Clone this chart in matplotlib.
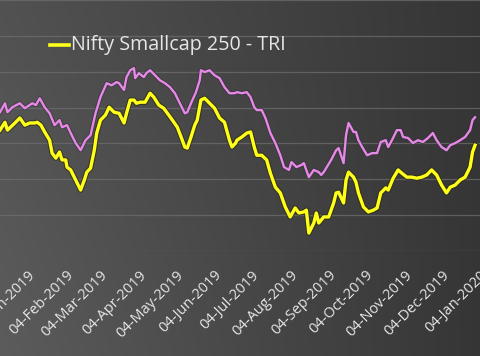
import numpy as np
import pandas as pd
import matplotlib
matplotlib.use("Agg")
import matplotlib.pyplot as plt
import matplotlib.patheffects as pe

# ---- data ----
yellow_dates = ["2018-12-13","2018-12-17","2018-12-19","2018-12-25","2018-12-29","2019-01-02","2019-01-06","2019-01-10","2019-01-12","2019-01-15",
"2019-01-18","2019-01-22","2019-01-24","2019-01-27","2019-01-30","2019-02-01","2019-02-04","2019-02-05","2019-02-08","2019-02-12",
"2019-02-16","2019-02-19","2019-02-21","2019-02-24","2019-02-27","2019-03-01","2019-03-04","2019-03-08","2019-03-11","2019-03-15",
"2019-03-19","2019-03-23","2019-03-25","2019-03-28","2019-03-31","2019-04-02","2019-04-05","2019-04-09","2019-04-13","2019-04-16",
"2019-04-20","2019-04-24","2019-04-27","2019-05-01","2019-05-05","2019-05-08","2019-05-11","2019-05-13","2019-05-16","2019-05-19",
"2019-05-21","2019-05-24","2019-05-27","2019-05-31","2019-06-04","2019-06-08","2019-06-12","2019-06-16","2019-06-18","2019-06-21",
"2019-06-22","2019-06-26","2019-06-30","2019-07-03","2019-07-06","2019-07-08","2019-07-12","2019-07-16","2019-07-19","2019-07-23",
"2019-07-27","2019-07-31","2019-08-04","2019-08-08","2019-08-11","2019-08-15","2019-08-17","2019-08-19","2019-08-23","2019-08-25",
"2019-08-27","2019-08-31","2019-09-04","2019-09-08","2019-09-10","2019-09-12","2019-09-16","2019-09-18","2019-09-20","2019-09-24",
"2019-09-26","2019-09-28","2019-10-02","2019-10-06","2019-10-10","2019-10-13","2019-10-16","2019-10-20","2019-10-22","2019-10-26",
"2019-10-30","2019-11-02","2019-11-06","2019-11-10","2019-11-14","2019-11-18","2019-11-22","2019-11-26","2019-11-30","2019-12-04",
"2019-12-08","2019-12-11","2019-12-15","2019-12-19","2019-12-23","2019-12-27","2019-12-29","2019-12-31"]
yellow_values = [93.7,95.9,93.7,95.7,97.1,95.1,95.7,95.7,95.9,95.1,
93.2,90.9,87.3,85.9,87.6,85.4,85.4,83.4,82.6,79.8,
77.0,79.8,82.0,83.1,88.1,92.9,96.5,97.9,100.1,98.7,
98.4,95.7,98.4,102.1,102.1,101.2,101.5,101.5,104.0,102.9,
100.7,99.8,98.4,96.5,94.5,91.8,89.0,88.7,91.8,95.1,
96.5,102.1,102.6,101.2,99.8,97.1,95.9,90.9,89.0,90.1,
90.9,91.8,92.9,93.2,89.0,86.7,86.7,85.4,81.7,77.8,
76.2,72.3,69.5,72.0,70.6,70.9,71.4,65.0,67.8,70.6,
67.8,69.5,69.5,73.4,76.2,76.4,73.4,79.8,82.0,80.6,
79.2,76.2,72.3,70.9,71.4,72.0,76.2,77.6,77.0,80.3,
82.6,81.7,80.6,80.6,80.3,80.6,81.2,82.6,81.2,78.4,
76.2,77.8,78.4,79.8,80.6,83.4,87.6,89.5]

pink_dates = ["2018-12-13","2018-12-17","2018-12-19","2018-12-23","2018-12-29","2019-01-02","2019-01-08","2019-01-11","2019-01-14","2019-01-18",
"2019-01-22","2019-01-26","2019-01-30","2019-02-01","2019-02-05","2019-02-08","2019-02-12","2019-02-16","2019-02-20","2019-02-24",
"2019-02-28","2019-03-04","2019-03-09","2019-03-13","2019-03-17","2019-03-19","2019-03-23","2019-03-25","2019-03-28","2019-03-31",
"2019-04-01","2019-04-04","2019-04-08","2019-04-10","2019-04-13","2019-04-17","2019-04-21","2019-04-25","2019-04-29","2019-05-03",
"2019-05-07","2019-05-11","2019-05-13","2019-05-16","2019-05-20","2019-05-23","2019-05-24","2019-05-27","2019-05-31","2019-06-04",
"2019-06-08","2019-06-12","2019-06-16","2019-06-20","2019-06-22","2019-06-26","2019-06-30","2019-07-03","2019-07-06","2019-07-08",
"2019-07-12","2019-07-15","2019-07-19","2019-07-23","2019-07-27","2019-07-30","2019-08-03","2019-08-05","2019-08-09","2019-08-13",
"2019-08-15","2019-08-19","2019-08-23","2019-08-27","2019-08-29","2019-08-31","2019-09-06","2019-09-10","2019-09-12","2019-09-16",
"2019-09-18","2019-09-20","2019-09-24","2019-09-26","2019-09-28","2019-10-01","2019-10-05","2019-10-09","2019-10-13","2019-10-16",
"2019-10-20","2019-10-22","2019-10-25","2019-10-29","2019-11-01","2019-11-03","2019-11-07","2019-11-11","2019-11-15","2019-11-19",
"2019-11-23","2019-11-27","2019-11-30","2019-12-04","2019-12-08","2019-12-11","2019-12-15","2019-12-19","2019-12-23","2019-12-27",
"2019-12-29","2019-12-31"]
pink_values = [98.7,101.2,98.7,100.1,101.2,99.8,101.2,100.7,102.6,100.1,
98.4,95.1,96.5,94.5,95.1,92.9,90.1,88.1,90.9,92.3,
98.4,102.9,106.8,106.2,107.1,106.8,104.9,108.5,110.4,111.0,
108.2,109.6,108.5,109.6,110.4,109.0,107.6,106.8,105.7,104.0,
101.2,98.4,98.7,101.2,104.3,107.6,110.4,109.9,110.4,109.0,
108.2,105.7,104.0,104.0,104.3,104.0,104.3,102.9,100.1,99.3,
99.3,97.1,92.9,90.1,86.7,83.4,82.6,84.8,83.4,84.0,
84.5,80.6,82.6,82.0,81.2,82.0,85.4,88.1,88.7,84.5,
92.3,95.7,93.2,93.2,90.9,89.0,86.7,87.3,87.3,90.4,
90.9,89.0,90.9,93.7,93.7,91.8,91.5,90.1,90.9,90.4,
91.5,92.9,90.9,89.0,88.1,89.5,90.1,90.9,91.8,93.7,
96.5,97.3]

tick_dates = ["2019-01-04","2019-02-04","2019-03-04","2019-04-04","2019-05-04","2019-06-04","2019-07-04",
              "2019-08-04","2019-09-04","2019-10-04","2019-11-04","2019-12-04","2020-01-04"]
tick_labels = ["04-Jan-2019","04-Feb-2019","04-Mar-2019","04-Apr-2019","04-May-2019","04-Jun-2019","04-Jul-2019",
               "04-Aug-2019","04-Sep-2019","04-Oct-2019","04-Nov-2019","04-Dec-2019","04-Jan-2020"]
grid_values = [60, 70, 80, 90, 100, 110, 120, 130]
legend_label = "Nifty Smallcap 250 - TRI"

W, H = 480, 356
fig = plt.figure(figsize=(W/100, H/100), dpi=100)

# background gradient
bg = fig.add_axes([0, 0, 1, 1])
gx = np.linspace(0, 1, 200)
gy = np.linspace(0, 1, 150)
X, Y = np.meshgrid(gx, gy)
G = 0.32 - 0.11 * X + 0.04 * Y * (1 - X)
bg.imshow(np.dstack([G, G, G]), extent=[0, 1, 0, 1], aspect='auto', origin='upper')
bg.set_axis_off()

ax = fig.add_axes([0, 105/H, 1, 251/H])
ax.patch.set_alpha(0)

yd = pd.to_datetime(yellow_dates)
pdts = pd.to_datetime(pink_dates)

ax.plot(pdts, pink_values, color="#e48ae6", lw=1.7, solid_joinstyle='round',
        path_effects=[pe.Stroke(linewidth=3.0, foreground="#3a2a3a", alpha=0.6), pe.Normal()], zorder=3)
ax.plot(yd, yellow_values, color="#ffff1a", lw=2.4, solid_joinstyle='round',
        path_effects=[pe.Stroke(linewidth=3.9, foreground="#2a2a10", alpha=0.7), pe.Normal()], zorder=4)

ax.set_xlim(pd.Timestamp("2018-12-13"), pd.Timestamp("2019-12-31"))
ax.set_ylim(60, 130)
ax.set_yticks(grid_values)
ax.yaxis.grid(True, color="#707070", lw=0.9, alpha=0.7)
ax.tick_params(axis='y', left=False, labelleft=False)
for s in ax.spines.values():
    s.set_visible(False)

ax.set_xticks(pd.to_datetime(tick_dates))
ax.set_xticklabels(tick_labels, rotation=45, ha='right', rotation_mode='anchor',
                   color="#e6e6e6", fontsize=10.5, family="Open Sans")
ax.tick_params(axis='x', length=0, pad=12)

# legend (only this entry is visible)
fig.add_artist(plt.Line2D([50/W, 69/W], [1 - 45/H, 1 - 45/H], color="#ffff1a", lw=2.6))
fig.text(71/W, 1 - 45/H, legend_label, color="#e6e6e6", fontsize=14.2, family="Open Sans",
         va='center', ha='left')

fig.savefig("out.png", dpi=100)
